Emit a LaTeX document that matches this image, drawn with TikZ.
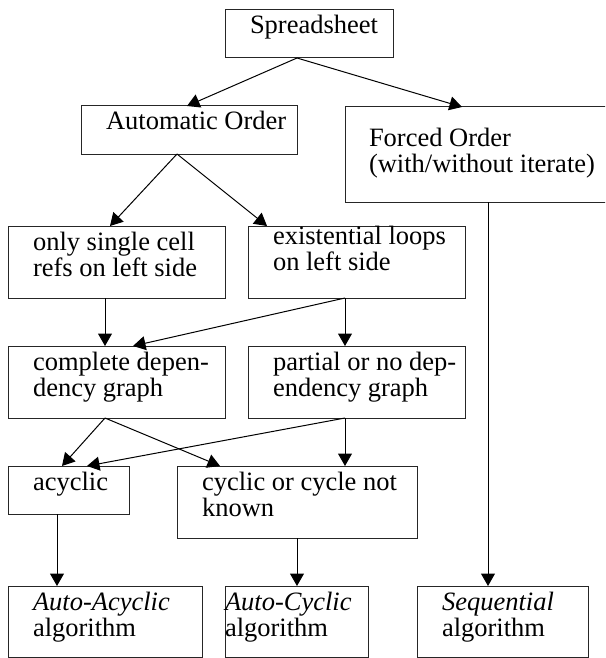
\documentclass[tikz,border=0pt]{standalone}
\usepackage{fontspec}
\setmainfont{Liberation Serif}
\usetikzlibrary{arrows.meta}
\newcommand\bxtext[5]{\parbox[c][#2pt][t]{#1pt}{\raggedright\leftskip=#3pt\relax\lineskiplimit=-50pt\rule{0pt}{#4pt}#5}}
\begin{document}
\begin{tikzpicture}[x=1pt,y=-1pt,
  box/.style={draw=black!85, line width=1pt, inner sep=0pt, outer sep=0pt, anchor=north west,
    font=\fontsize{26.5}{26.5}\selectfont},
  conn/.style={draw=black, line width=1pt, -{Triangle[length=12.5pt,width=14pt]}}]
\useasboundingbox (0,0) rectangle (605,658);
\clip (0,0) rectangle (605,658);
\fill[white] (0,0) rectangle (605,658);
% boxes
\node[box] (sp) at (225,10) {\bxtext{168}{48}{25}{24}{Spreadsheet}};
\node[box] (auto) at (81,106) {\bxtext{216}{48}{25}{23}{Automatic Order}};
\node[box] (forced) at (345,107) {\bxtext{275}{95}{24}{39}{Forced Order\\(with/without iterate)}};
\node[box] (single) at (8,226) {\bxtext{217}{72}{25}{24}{only single cell\\refs on left side}};
\node[box] (exist) at (248,226) {\bxtext{217}{72}{25}{16}{existential loops\\on left side}};
\node[box] (complete) at (8,346) {\bxtext{217}{72}{25}{24}{complete depen-\\dency graph}};
\node[box] (partial) at (248,346) {\bxtext{217}{72}{25}{24}{partial or no dep-\\endency graph}};
\node[box] (acyclic) at (8,466) {\bxtext{121}{48}{25}{24}{acyclic}};
\node[box] (cyclic) at (177,466) {\bxtext{240}{72}{25}{24}{cyclic or cycle not\\known}};
\node[box] (aacyc) at (8,586) {\bxtext{194}{71}{25}{24}{\textit{Auto-Acyclic}\\algorithm}};
\node[box] (acyc) at (225,586) {\bxtext{143}{71}{0}{24}{\textit{Auto-Cyclic}\\algorithm}};
\node[box] (seq) at (417,586) {\bxtext{171}{71}{25}{24}{\textit{Sequential}\\algorithm}};
% connectors
\draw[conn] ([xshift=72pt]sp.south west) -- ([xshift=106pt]auto.north west);
\draw[conn] ([xshift=72pt]sp.south west) -- ([xshift=117pt]forced.north west);
\draw[conn] ([xshift=96pt]auto.south west) -- ([xshift=102pt]single.north west);
\draw[conn] ([xshift=96pt]auto.south west) -- ([xshift=19pt]exist.north west);
\draw[conn] ([xshift=97pt]single.south west) -- ([xshift=97pt]complete.north west);
\draw[conn] ([xshift=97pt]exist.south west) -- ([xshift=125pt]complete.north west);
\draw[conn] ([xshift=97pt]exist.south west) -- ([xshift=97pt]partial.north west);
\draw[conn] ([xshift=97pt]complete.south west) -- ([xshift=54pt]acyclic.north west);
\draw[conn] ([xshift=97pt]complete.south west) -- ([xshift=43pt]cyclic.north west);
\draw[conn] ([xshift=97pt]partial.south west) -- ([xshift=168pt]cyclic.north west);
\draw[conn] ([xshift=97pt]partial.south west) -- ([xshift=79pt]acyclic.north west);
\draw[conn] ([xshift=49pt]acyclic.south west) -- ([xshift=49pt]aacyc.north west);
\draw[conn] ([xshift=120pt]cyclic.south west) -- ([xshift=72pt]acyc.north west);
\draw[conn] ([xshift=143pt]forced.south west) -- ([xshift=71pt]seq.north west);
\end{tikzpicture}
\end{document}
